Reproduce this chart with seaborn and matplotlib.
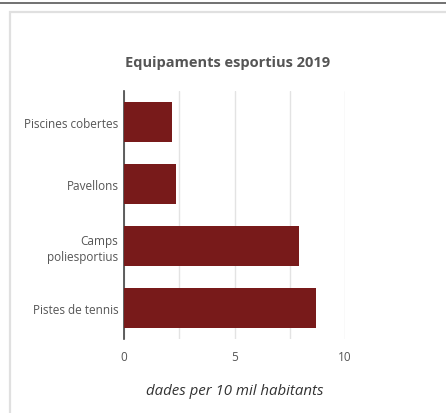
import matplotlib
matplotlib.use("Agg")
import matplotlib.pyplot as plt
import seaborn as sns
import pandas as pd
from matplotlib.patches import Rectangle
from matplotlib.lines import Line2D

categories = ["Piscines cobertes", "Pavellons", "Camps\npoliesportius", "Pistes de tennis"]
values = [2.16, 2.34, 7.93, 8.67]
xticks = [0, 5, 10]

df = pd.DataFrame({"equipament": categories, "valor": values})

sns.set_style("white")
plt.rcParams["font.family"] = ["Open Sans", "DejaVu Sans"]

fig = plt.figure(figsize=(4.46, 4.14), dpi=100)
ax = fig.add_axes([124 / 446, 74 / 414, 221 / 446, 248 / 414])

sns.barplot(data=df, x="valor", y="equipament", orient="h", color="#781a1a",
            saturation=1, width=0.63, linewidth=0, ax=ax, zorder=3)

ax.set_xlim(0, 10)
ax.set_ylim(3.5, -0.5)
ax.set_xticks(xticks)
ax.set_xticks([2.5, 7.5], minor=True)
ax.grid(axis="x", which="both", color="#e3e3e3", linewidth=1, zorder=0)
ax.tick_params(axis="both", which="both", length=0, labelsize=8.5, labelcolor="#555555")
ax.tick_params(axis="x", pad=8)
ax.tick_params(axis="y", pad=4)
for lab in ax.get_yticklabels():
    lab.set_linespacing(1.3)
for s in ["top", "right", "bottom"]:
    ax.spines[s].set_visible(False)
ax.spines["left"].set_color("#444444")
ax.spines["left"].set_linewidth(1.2)
ax.set_ylabel("")
ax.set_xlabel("dades per 10 mil habitants", fontsize=10.8, style="italic",
              color="#333333", labelpad=14)

fig.text(228 / 446, 1 - 63 / 414, "Equipaments esportius 2019", ha="center", va="center",
         fontsize=10.5, fontweight="bold", color="#555555")

# page frame
fig.add_artist(Line2D([0, 1], [1 - 4 / 414, 1 - 4 / 414], color="#666666", linewidth=1.3,
                      transform=fig.transFigure))
fig.add_artist(Rectangle((10 / 446, -0.05), 1.2, 1 - 13 / 414 + 0.05, fill=False,
                         edgecolor="#e0e0e0", linewidth=1.6, transform=fig.transFigure))

fig.savefig("out.png", dpi=100)
